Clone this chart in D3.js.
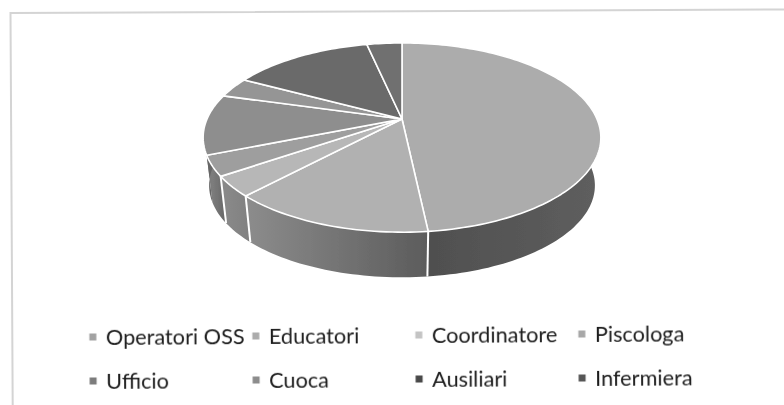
<!DOCTYPE html>
<html>
<head>
<meta charset="utf-8">
<script src="https://cdn.jsdelivr.net/npm/d3@7"></script>
<style>
  html, body { margin: 0; padding: 0; background: #fff; }
  svg { display: block; }
  .legend text { font-family: Lato, "Open Sans", sans-serif; font-size: 21.7px; fill: #1c1c1c; }
</style>
</head>
<body>
<div class="chart"></div>
<script>
// Chart data
var categories = ['Operatori OSS', 'Educatori', 'Coordinatore', 'Piscologa', 'Ufficio', 'Cuoca', 'Ausiliari', 'Infermiera'];
var values = [14, 4, 1, 1, 3, 1, 4, 1];
var topColors = ['#acacac', '#b1b1b1', '#b7b7b7', '#9e9e9e', '#8e8e8e', '#959595', '#6b6b6b', '#707070'];
var wallLeft = ['#4d4d4d', '#8b8b8b', '#898989', '#7c7c7c', '#666', '#666', '#444', '#444'];
var wallRight = ['#5e5e5e', '#5c5c5c', '#808080', '#666666', '#666', '#666', '#444', '#444'];
var legendColors = ['#a2a2a2', '#acacac', '#c4c4c4', '#a8a8a8', '#7c7c7c', '#8c8c8c', '#484848', '#565656'];

var width = 784;
var height = 405;

// Flat pie seen in perspective: apex of the pie sits above the middle of the ellipse
var apexX = 402, apexY = 119;
var radiusX = 195, radiusY = 91, tilt = 0.196;
var wallDrop = 48.5, wallScale = 0.97;

var project = function(angle) {
  var X = Math.sin(angle), Y = -Math.cos(angle), w = 1 - tilt * Y;
  return [radiusX * X / w, radiusY * Y / w];
};
var topPoint = function(angle) {
  var p = project(angle);
  return [apexX + p[0], apexY + p[1]];
};
var bottomPoint = function(angle) {
  var p = project(angle);
  return [apexX + wallScale * p[0], apexY + wallDrop + wallScale * p[1]];
};

var slices = d3.pie().sort(null)(values);
var line = d3.line();
var rimAngles = function(d) {
  var n = Math.max(2, Math.ceil((d.endAngle - d.startAngle) * 40));
  return d3.range(n + 1).map(function(i) { return d.startAngle + (d.endAngle - d.startAngle) * i / n; });
};

var svg = d3.select('.chart').append('svg')
            .attr('width', width)
            .attr('height', height);

var defs = svg.append('defs');
var soft = defs.append('filter').attr('id', 'soft');
soft.append('feGaussianBlur').attr('stdDeviation', 0.45);
var softer = defs.append('filter').attr('id', 'softer')
                 .attr('filterUnits', 'userSpaceOnUse')
                 .attr('x', 0).attr('y', 0).attr('width', width).attr('height', height);
softer.append('feGaussianBlur').attr('stdDeviation', 0.7);

// Faint frame of the scanned chart, a little off square
svg.append('path')
   .attr('d', 'M12.7,405L10.5,13L784,9.5')
   .attr('filter', 'url(#softer)')
   .style('fill', 'none')
   .style('stroke', '#d4d4d4')
   .style('stroke-width', 2);

// One gradient per wall, running along the visible front rim
slices.forEach(function(d, i) {
  var pts = rimAngles(d).map(bottomPoint);
  var g = defs.append('linearGradient')
              .attr('id', 'wall' + i)
              .attr('gradientUnits', 'userSpaceOnUse')
              .attr('x1', d3.min(pts, function(p) { return p[0]; }))
              .attr('x2', d3.max(pts, function(p) { return p[0]; }))
              .attr('y1', 0).attr('y2', 0);
  // Operatori wall is dark on the left and lifts a little towards the right
  g.append('stop').attr('offset', 0).attr('stop-color', wallLeft[i]);
  g.append('stop').attr('offset', 1).attr('stop-color', wallRight[i]);
});

var pie = svg.append('g').attr('filter', 'url(#soft)');

//Side walls, covered at the back by the top face
pie.selectAll('path.wall')
   .data(slices)
   .enter()
   .append('path')
   .attr('class', 'wall')
   .attr('d', function(d) {
     var a = rimAngles(d);
     return line(a.map(topPoint).concat(a.slice().reverse().map(bottomPoint))) + 'Z';
   })
   .style('fill', function(d, i) { return 'url(#wall' + i + ')'; });

//White seams down the front wall
pie.selectAll('path.seam')
   .data(slices.filter(function(d) {
     return d.endAngle > Math.PI / 2 && d.endAngle < 3 * Math.PI / 2 - 0.45;
   }))
   .enter()
   .append('path')
   .attr('class', 'seam')
   .attr('d', function(d) { return line([topPoint(d.endAngle), bottomPoint(d.endAngle)]); })
   .style('stroke', '#fff')
   .style('stroke-width', 2);

//Top face
pie.selectAll('path.top')
   .data(slices)
   .enter()
   .append('path')
   .attr('class', 'top')
   .attr('d', function(d) {
     return line([[apexX, apexY]].concat(rimAngles(d).map(topPoint))) + 'Z';
   })
   .style('fill', function(d, i) { return topColors[i]; })
   .style('stroke', '#fff')
   .style('stroke-width', 1.6)
   .style('stroke-linejoin', 'round');

// Legend, two rows of four, slightly skewed as in the scan
var legendCols = d3.scaleOrdinal().domain([0, 1, 2, 3]).range([93, 256, 419, 582]);
var legendRows = d3.scaleOrdinal().domain([0, 1]).range([337, 381]);

var legend = svg.append('g')
                .attr('class', 'legend')
                .attr('filter', 'url(#soft)')
                .attr('transform', 'rotate(-0.35 93 360)');

var items = legend.selectAll('g')
                  .data(categories)
                  .enter()
                  .append('g')
                  .attr('transform', function(d, i) {
                    return 'translate(' + legendCols(i % 4) + ',' + legendRows(Math.floor(i / 4)) + ')';
                  });

items.append('rect')
     .attr('x', -3.5).attr('y', -3.5)
     .attr('width', 7).attr('height', 7)
     .style('fill', function(d, i) { return legendColors[i]; });

items.append('text')
     .attr('x', 13)
     .attr('y', 8)
     .text(function(d) { return d; });
</script>
</body>
</html>
